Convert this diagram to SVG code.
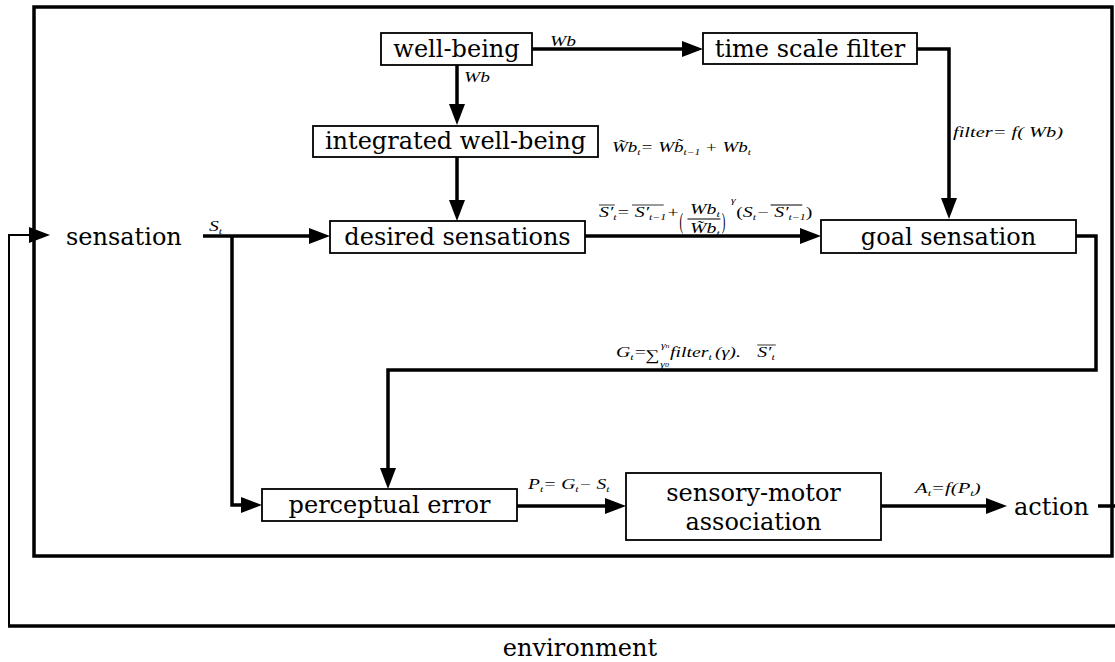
<svg xmlns="http://www.w3.org/2000/svg" width="1115" height="662" viewBox="0 0 1115 662">
  <style>
    .box { fill: #fff; stroke: #000; stroke-width: 1.8; }
    .lbl { font-family: "DejaVu Serif", serif; font-size: 24px; fill: #000; text-anchor: middle; }
    .lblL { font-family: "DejaVu Serif", serif; font-size: 24px; fill: #000; }
    .wire { fill: none; stroke: #000; stroke-width: 3.5; }
    .thin { fill: none; stroke: #000; stroke-width: 2; }
    .frame { fill: none; stroke: #000; stroke-width: 3.5; }
    .m { font-family: "Liberation Serif", serif; font-style: italic; font-size: 15px; fill: #000; }
    .up { font-style: normal; }
    .s { font-size: 9px; }
    .bar { stroke: #000; stroke-width: 0.8; }
  </style>
  <defs>
    <marker id="ah" markerUnits="userSpaceOnUse" markerWidth="21" markerHeight="16" viewBox="0 0 21 16" refX="11" refY="8" orient="auto">
      <path d="M0,0 L21,8 L0,16 z" fill="#000"/>
    </marker>
  </defs>

  <!-- agent boundary -->
  <rect class="frame" x="34" y="7" width="1078" height="549"/>

  <!-- nodes -->
  <g id="well-being">
    <rect class="box" x="381" y="33" width="151" height="32"/>
    <text class="lbl" x="456.5" y="57">well-being</text>
  </g>
  <g id="time-scale-filter">
    <rect class="box" x="703" y="33" width="214" height="31"/>
    <text class="lbl" x="810" y="57">time scale filter</text>
  </g>
  <g id="integrated-well-being">
    <rect class="box" x="313" y="126" width="285" height="31"/>
    <text class="lbl" x="455.5" y="149">integrated well-being</text>
  </g>
  <g id="sensation">
    <text class="lblL" x="66" y="245">sensation</text>
  </g>
  <g id="desired-sensations">
    <rect class="box" x="330" y="221" width="255" height="32"/>
    <text class="lbl" x="457.5" y="245">desired sensations</text>
  </g>
  <g id="goal-sensation">
    <rect class="box" x="821" y="220" width="255" height="33"/>
    <text class="lbl" x="948.5" y="245">goal sensation</text>
  </g>
  <g id="perceptual-error">
    <rect class="box" x="262" y="489" width="255" height="32"/>
    <text class="lbl" x="389.5" y="513">perceptual error</text>
  </g>
  <g id="sensory-motor-association">
    <rect class="box" x="626" y="473" width="255" height="67"/>
    <text class="lbl" x="753.5" y="501">sensory-motor</text>
    <text class="lbl" x="753.5" y="530">association</text>
  </g>
  <g id="action">
    <text class="lblL" x="1014" y="515">action</text>
  </g>
  <g id="environment">
    <text class="lbl" x="580" y="656">environment</text>
  </g>

  <!-- connectors -->
  <g id="connectors">
    <line class="wire" x1="457" y1="65" x2="457" y2="115" marker-end="url(#ah)"/>
    <line class="wire" x1="457" y1="157" x2="457" y2="211" marker-end="url(#ah)"/>
    <line class="wire" x1="532" y1="49" x2="693" y2="49" marker-end="url(#ah)"/>
    <path class="wire" d="M917,49 H949 V209" marker-end="url(#ah)"/>
    <line class="wire" x1="203" y1="236" x2="320" y2="236" marker-end="url(#ah)"/>
    <path class="wire" d="M232,236 V505 H252" marker-end="url(#ah)"/>
    <line class="wire" x1="585" y1="236" x2="811" y2="236" marker-end="url(#ah)"/>
    <path class="wire" d="M1076,236 H1096 V370 H388 V479" marker-end="url(#ah)"/>
    <line class="wire" x1="517" y1="506" x2="616" y2="506" marker-end="url(#ah)"/>
    <line class="wire" x1="881" y1="506" x2="997" y2="506" marker-end="url(#ah)"/>
    <line class="wire" x1="1098" y1="506" x2="1115" y2="506"/>
    <!-- environment feedback loop -->
    <line class="wire" x1="1115" y1="626" x2="8" y2="626"/>
    <line class="thin" x1="9" y1="627" x2="9" y2="235"/>
    <line class="thin" x1="8" y1="235" x2="40" y2="235" marker-end="url(#ah)"/>
  </g>

  <!-- connector labels (formulas stretched horizontally) -->
  <g id="labels">
    <text class="m" transform="translate(550,46) scale(1.3,1)">Wb</text>
    <text class="m" transform="translate(464,82) scale(1.3,1)">Wb</text>
    <text class="m" transform="translate(953,137) scale(1.36,1)">filter= f( Wb)</text>
    <text class="m" transform="translate(209,231) scale(1.3,1)">S<tspan class="s" dy="3">t</tspan></text>

    <!-- integrated well-being update -->
    <text class="m" transform="translate(612,152) scale(1.27,1)">W̃b<tspan class="s" dy="3">t</tspan><tspan dy="-3">= Wb̃</tspan><tspan class="s" dy="3">t−1</tspan><tspan dy="-3"> + Wb</tspan><tspan class="s" dy="3">t</tspan></text>

    <!-- desired sensation update -->
    <g transform="translate(599,217) scale(1.32,1)">
      <text class="m" x="0" y="0">S′<tspan class="s" dy="3">t</tspan><tspan dy="-3">= S′</tspan><tspan class="s" dy="3">t−1</tspan><tspan dy="-3">+</tspan></text>
      <line class="bar" x1="0" y1="-12" x2="12" y2="-12"/>
      <line class="bar" x1="25" y1="-12" x2="49" y2="-12"/>
      <text class="m up" font-size="26" transform="translate(61,12) scale(0.55,1.55)">(</text>
      <text class="m" x="69" y="-3">Wb<tspan class="s" dy="3">t</tspan></text>
      <line class="bar" x1="67" y1="2" x2="92" y2="2"/>
      <text class="m" x="69" y="16">W̃b<tspan class="s" dy="3">t</tspan></text>
      <text class="m up" font-size="26" transform="translate(93,12) scale(0.55,1.55)">)</text>
      <text class="m s" x="100" y="-14">γ</text>
      <text class="m" x="104" y="0"><tspan class="up">(</tspan>S<tspan class="s" dy="3">t</tspan><tspan dy="-3">− S′</tspan><tspan class="s" dy="3">t−1</tspan><tspan dy="-3" class="up">)</tspan></text>
      <line class="bar" x1="130" y1="-12" x2="154" y2="-12"/>
    </g>

    <!-- goal sensation -->
    <g transform="translate(616,357) scale(1.32,1)">
      <text class="m" x="0" y="0" font-size="14">G<tspan class="s" dy="3">t</tspan><tspan dy="-3">=</tspan></text>
      <text class="m up" x="22" y="3" font-size="19">∑</text>
      <text class="m s" x="34" y="-9">γ<tspan font-size="6">n</tspan></text>
      <text class="m s" x="33.5" y="10">γ<tspan font-size="6">0</tspan></text>
      <text class="m" x="41" y="0">filter<tspan class="s" dy="3">t</tspan></text>
      <text class="m" x="75" y="0">(γ).</text>
      <text class="m" x="107" y="0">S′<tspan class="s" dy="3">t</tspan></text>
      <line class="bar" x1="107" y1="-12" x2="121" y2="-12"/>
    </g>

    <text class="m" transform="translate(528,489) scale(1.3,1)">P<tspan class="s" dy="3">t</tspan><tspan dy="-3">= G</tspan><tspan class="s" dy="3">t</tspan><tspan dy="-3">− S</tspan><tspan class="s" dy="3">t</tspan></text>
    <text class="m" transform="translate(915,493) scale(1.38,1)">A<tspan class="s" dy="3">t</tspan><tspan dy="-3">=f(P</tspan><tspan class="s" dy="3">t</tspan><tspan dy="-3">)</tspan></text>
  </g>
</svg>
